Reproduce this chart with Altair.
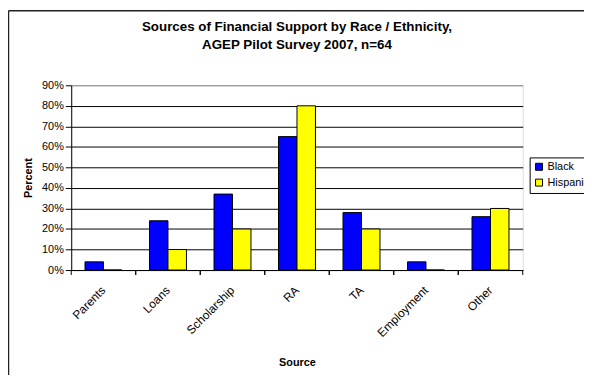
import altair as alt
import pandas as pd

sources = ["Parents", "Loans", "Scholarship", "RA", "TA", "Employment", "Other"]
black = [0.04, 0.24, 0.37, 0.65, 0.28, 0.04, 0.26]
hispanic = [0.0, 0.10, 0.20, 0.80, 0.20, 0.0, 0.30]
series = ["Black", "Hispanic"]
colors = ["#0000FF", "#FFFF00"]
y_ticks = [0, 0.1, 0.2, 0.3, 0.4, 0.5, 0.6, 0.7, 0.8, 0.9]

rows = []
for s, b, h in zip(sources, black, hispanic):
    rows.append({"Source": s, "Group": "Black", "Percent": b})
    rows.append({"Source": s, "Group": "Hispanic", "Percent": h})
df = pd.DataFrame(rows)
cat_df = pd.DataFrame({"Source": sources})
one = pd.DataFrame({"k": [0]})

FONT = "Liberation Sans"
W, H = 457, 187

xscale = alt.Scale(domain=sources, paddingInner=0, paddingOuter=0)

bars = alt.Chart(df).mark_bar(stroke="black", strokeWidth=1).encode(
    x=alt.X("Source:N", scale=xscale, sort=sources,
            axis=alt.Axis(title="Source", labelAngle=-45, ticks=False,
                          labelFontSize=12, labelFont=FONT, labelColor="black",
                          labelPadding=18, titleFont=FONT, titleFontSize=11,
                          titleFontWeight="bold", titleColor="black", titlePadding=18,
                          domainColor="black", labelAlign="right", labelBaseline="middle")),
    xOffset=alt.XOffset("Group:N", sort=series,
                        scale=alt.Scale(domain=series, paddingInner=0, paddingOuter=0.745)),
    y=alt.Y("Percent:Q", scale=alt.Scale(domain=[0, 0.9], nice=False),
            axis=alt.Axis(title="Percent", values=y_ticks, format=".0%",
                          labelFontSize=11, labelFont=FONT, labelColor="black",
                          tickColor="black", tickSize=6, labelPadding=2,
                          titleFont=FONT, titleFontSize=11, titleFontWeight="bold",
                          titleColor="black", titlePadding=8, domainColor="black",
                          grid=True,
                          gridColor={"condition": {"test": "datum.value >= 0.89", "value": "#808080"},
                                     "value": "black"})),
    color=alt.Color("Group:N", scale=alt.Scale(domain=series, range=colors),
                    legend=alt.Legend(title=None, orient="none", legendX=464, legendY=73,
                                      strokeColor="black", fillColor="white", padding=4,
                                      symbolType="square", symbolSize=50,
                                      symbolStrokeColor="black", symbolStrokeWidth=1,
                                      labelFontSize=11, labelFont=FONT, labelColor="black",
                                      rowPadding=3, labelOffset=3, labelLimit=200)),
)

tick_left = alt.Chart(cat_df).mark_rule(color="black").encode(
    x=alt.X("Source:N", scale=xscale, sort=sources, bandPosition=0),
    y=alt.value(H), y2=alt.value(H + 5),
)
tick_right = alt.Chart(cat_df).mark_rule(color="black").encode(
    x=alt.X("Source:N", scale=xscale, sort=sources, bandPosition=1),
    y=alt.value(H), y2=alt.value(H + 5),
)

frame_top = alt.Chart(one).mark_rule(color="#222222", strokeWidth=1.5).encode(
    x=alt.value(-63.5), x2=alt.value(W + 80), y=alt.value(-75.5)
)
frame_left = alt.Chart(one).mark_rule(color="#222222", strokeWidth=1.5).encode(
    x=alt.value(-63.5), y=alt.value(-75.5), y2=alt.value(H + 120)
)

chart = alt.layer(bars, tick_left, tick_right, frame_top, frame_left).properties(
    width=W, height=H,
    title=alt.TitleParams(
        text=["Sources of Financial Support by Race / Ethnicity,", "AGEP Pilot Survey 2007, n=64"],
        font=FONT, fontSize=13.5, fontWeight="bold", color="black",
        anchor="middle", offset=-42, lineHeight=18,
    ),
    autosize=alt.AutoSizeParams(type="none"),
    padding={"left": 64, "top": 76, "right": 62, "bottom": 104},
).configure_view(stroke="#808080", strokeWidth=1).configure(background="white")

chart.save("out.html", embed_options={"renderer": "svg", "actions": False})
